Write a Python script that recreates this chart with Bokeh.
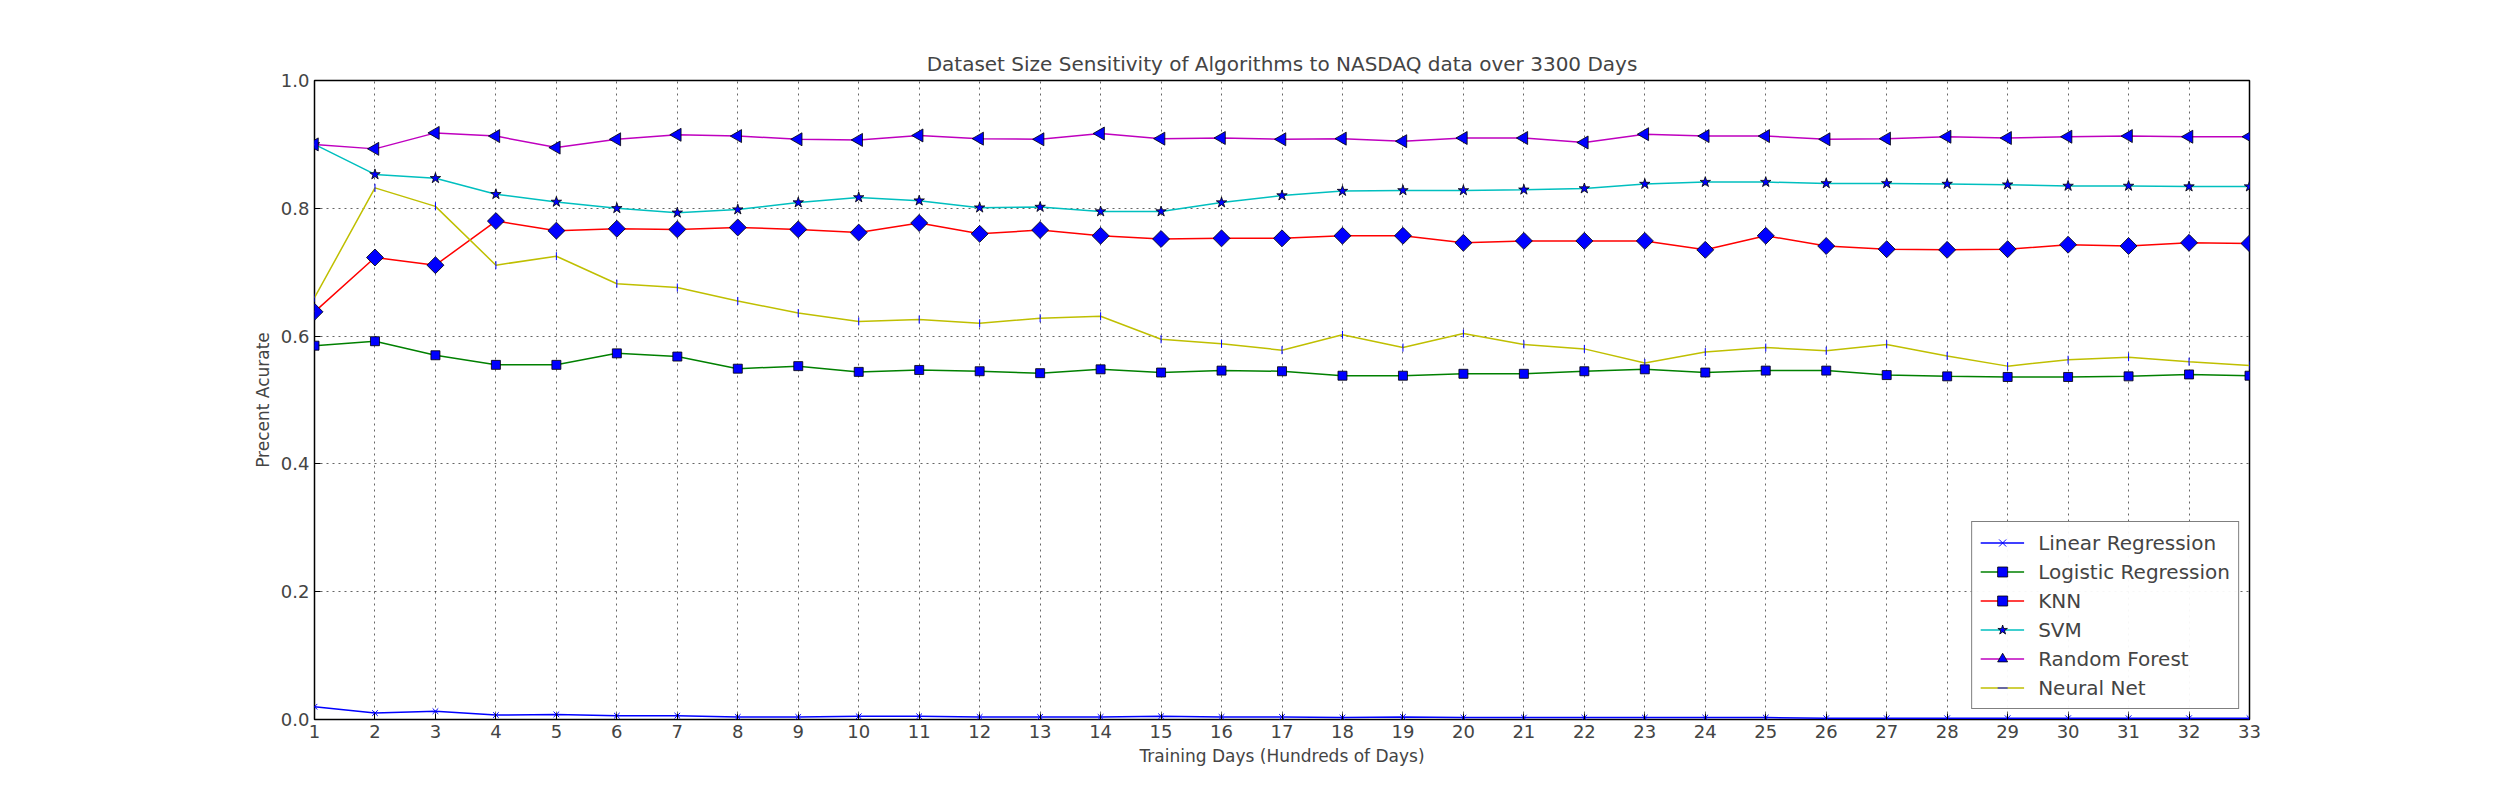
import numpy as np
from math import pi
from bokeh.plotting import figure
from bokeh.models import FixedTicker, NumeralTickFormatter
from bokeh.embed import file_html
from bokeh.resources import INLINE

days = list(range(1, 34))

linear_reg = [0.02, 0.01, 0.013, 0.007, 0.008, 0.006, 0.006, 0.004, 0.004, 0.005, 0.005, 0.004, 0.004,
              0.004, 0.005, 0.004, 0.004, 0.003, 0.004, 0.003, 0.003, 0.003, 0.003, 0.003, 0.003, 0.002,
              0.002, 0.002, 0.002, 0.002, 0.002, 0.002, 0.002]
logistic_reg = [0.585, 0.592, 0.57, 0.555, 0.555, 0.573, 0.568, 0.549, 0.553, 0.544, 0.547, 0.545, 0.542,
                0.548, 0.543, 0.546, 0.545, 0.538, 0.538, 0.541, 0.541, 0.545, 0.548, 0.543, 0.546, 0.546,
                0.539, 0.537, 0.536, 0.536, 0.537, 0.54, 0.538]
knn = [0.638, 0.723, 0.711, 0.78, 0.765, 0.768, 0.767, 0.77, 0.767, 0.762, 0.777, 0.76, 0.766, 0.757,
       0.752, 0.753, 0.753, 0.757, 0.757, 0.746, 0.749, 0.749, 0.749, 0.735, 0.757, 0.741, 0.736, 0.735,
       0.736, 0.743, 0.741, 0.746, 0.745]
svm = [0.90, 0.853, 0.847, 0.822, 0.81, 0.80, 0.793, 0.798, 0.809, 0.817, 0.812, 0.801, 0.802, 0.795,
       0.795, 0.809, 0.82, 0.827, 0.828, 0.828, 0.829, 0.831, 0.838, 0.841, 0.841, 0.839, 0.839, 0.838,
       0.837, 0.835, 0.835, 0.834, 0.834]
random_forest = [0.90, 0.893, 0.918, 0.913, 0.895, 0.908, 0.915, 0.913, 0.908, 0.907, 0.914, 0.909, 0.908,
                 0.917, 0.909, 0.91, 0.908, 0.909, 0.905, 0.91, 0.91, 0.903, 0.916, 0.913, 0.913, 0.908,
                 0.909, 0.912, 0.91, 0.912, 0.913, 0.912, 0.912]
neural_net = [0.66, 0.832, 0.803, 0.711, 0.725, 0.682, 0.676, 0.655, 0.636, 0.623, 0.626, 0.62, 0.628,
              0.631, 0.595, 0.588, 0.578, 0.602, 0.582, 0.604, 0.587, 0.58, 0.558, 0.575, 0.582, 0.577,
              0.587, 0.569, 0.553, 0.563, 0.567, 0.56, 0.554]

FONT = "DejaVu Sans"

p = figure(width=2484, height=784, x_range=(1, 33), y_range=(0, 1.0),
           title="Dataset Size Sensitivity of Algorithms to NASDAQ data over 3300 Days",
           x_axis_label="Training Days (Hundreds of Days)", y_axis_label="Precent Acurate",
           output_backend="svg", toolbar_location=None,
           min_border_left=314, min_border_right=235, min_border_top=80, min_border_bottom=65)

p.title.align = "center"
p.title.text_font = FONT
p.title.text_font_size = "20px"
p.title.text_font_style = "normal"
p.outline_line_color = "black"
p.outline_line_width = 1.5

for ax in (p.xaxis, p.yaxis):
    ax.axis_label_text_font = FONT
    ax.axis_label_text_font_size = "17px"
    ax.axis_label_text_font_style = "normal"
    ax.major_label_text_font = FONT
    ax.major_label_text_font_size = "18px"
    ax.major_tick_in = 6
    ax.major_tick_out = 0
    ax.minor_tick_line_color = None
    ax.axis_line_color = None
p.xaxis.ticker = FixedTicker(ticks=days)
p.yaxis.ticker = FixedTicker(ticks=[0, 0.2, 0.4, 0.6, 0.8, 1.0])
p.yaxis.formatter = NumeralTickFormatter(format="0.0")

p.grid.grid_line_color = "black"
p.grid.grid_line_alpha = 0.6
p.grid.grid_line_dash = "2 4"

series = [
    ("Linear Regression", linear_reg, "blue", "x", 0, 8),
    ("Logistic Regression", logistic_reg, "green", "square", 0, 9),
    ("KNN", knn, "red", "square", pi / 4, 12),
    ("SVM", svm, "#00bfbf", "star", 0, 11),
    ("Random Forest", random_forest, "#bf00bf", "triangle", pi / 2, 13),
    ("Neural Net", neural_net, "#bfbf00", "dash", pi / 2, 8),
]

for label, vals, color, marker, ang, size in series:
    p.line(days, vals, line_color=color, line_width=1.5, legend_label=label)
    if marker in ("x", "dash"):
        p.scatter(days, vals, marker=marker, size=size, angle=ang, line_color="blue",
                  legend_label=label)
    else:
        p.scatter(days, vals, marker=marker, size=size, angle=ang, fill_color="blue",
                  line_color="black", line_width=0.8, legend_label=label)

p.legend.location = "bottom_right"
p.legend.margin = 10
p.legend.border_line_color = "black"
p.legend.border_line_width = 1.5
p.legend.label_text_font = FONT
p.legend.label_text_font_size = "20px"
p.legend.glyph_width = 44
p.legend.label_standoff = 14
p.legend.spacing = 4
p.legend.label_height = 25
p.legend.glyph_height = 25
p.legend.padding = 8

open("out.html", "w").write(file_html(p, INLINE))
